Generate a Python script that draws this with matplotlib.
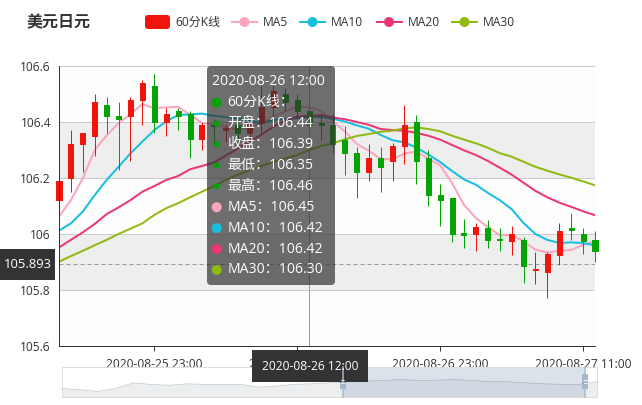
import numpy as np
import matplotlib
matplotlib.use('Agg')
import matplotlib.pyplot as plt
from matplotlib.patches import FancyBboxPatch, Rectangle, Circle

plt.rcParams['font.family'] = ['Open Sans', 'Noto Sans CJK SC', 'DejaVu Sans']

# ---- data ----
title = '美元日元'
kline_name = '60分K线'
ma_names = ['MA5', 'MA10', 'MA20', 'MA30']
tick_idx = [8, 20, 32, 44]
tick_labels = ['2020-08-25 23:00', '2020-08-26 11:00', '2020-08-26 23:00', '2020-08-27 11:00']
hover_idx = 21
hover_label = '2020-08-26 12:00'
y_ticks = [105.6, 105.8, 106.0, 106.2, 106.4, 106.6]
y_labels = ['105.6', '105.8', '106', '106.2', '106.4', '106.6']
mark_value = 105.893

opens = [106.12, 106.20, 106.32, 106.35, 106.46, 106.42, 106.42, 106.48, 106.53, 106.40,
         106.44, 106.43, 106.34, 106.39, 106.37, 106.39, 106.36, 106.395, 106.455, 106.50,
         106.48, 106.44, 106.395, 106.39, 106.335, 106.29, 106.22, 106.27, 106.26, 106.315,
         106.40, 106.27, 106.14, 106.13, 106.005, 106.00, 106.02, 105.982, 105.975, 105.98,
         105.87, 105.865, 105.925, 106.02, 106.00, 105.98]
closes = [106.19, 106.32, 106.36, 106.47, 106.42, 106.41, 106.48, 106.54, 106.40, 106.43,
          106.42, 106.34, 106.39, 106.385, 106.38, 106.36, 106.395, 106.455, 106.51, 106.47,
          106.44, 106.39, 106.39, 106.32, 106.29, 106.22, 106.27, 106.24, 106.315, 106.39,
          106.26, 106.14, 106.12, 106.00, 105.998, 106.025, 105.98, 105.978, 106.00, 105.885,
          105.876, 105.93, 106.01, 106.015, 105.976, 105.94]
lows = [106.06, 106.15, 106.22, 106.28, 106.36, 106.23, 106.26, 106.39, 106.36, 106.35,
        106.37, 106.27, 106.30, 106.32, 106.33, 106.33, 106.34, 106.36, 106.41, 106.44,
        106.41, 106.35, 106.335, 106.29, 106.21, 106.13, 106.19, 106.15, 106.19, 106.25,
        106.18, 106.10, 106.03, 105.97, 105.95, 105.94, 105.95, 105.94, 105.925, 105.825,
        105.82, 105.77, 105.89, 105.98, 105.93, 105.90]
highs = [106.20, 106.37, 106.36, 106.50, 106.49, 106.47, 106.49, 106.55, 106.57, 106.45,
         106.45, 106.44, 106.40, 106.41, 106.39, 106.41, 106.40, 106.53, 106.53, 106.52,
         106.50, 106.46, 106.43, 106.43, 106.385, 106.31, 106.32, 106.31, 106.325, 106.46,
         106.425, 106.30, 106.18, 106.13, 106.055, 106.04, 106.05, 106.02, 106.03, 105.99,
         105.935, 105.935, 106.04, 106.075, 106.02, 106.01]

ma5 = [106.062, 106.121, 106.199, 106.300, 106.352, 106.396, 106.428, 106.464, 106.450, 106.452,
       106.454, 106.426, 106.396, 106.393, 106.383, 106.371, 106.382, 106.395, 106.420, 106.438,
       106.454, 106.453, 106.440, 106.402, 106.366, 106.322, 106.298, 106.268, 106.267, 106.287,
       106.295, 106.269, 106.245, 106.182, 106.104, 106.057, 106.025, 105.996, 105.996, 105.974,
       105.944, 105.934, 105.940, 105.943, 105.961, 105.974]
ma10 = [106.012, 106.038, 106.080, 106.139, 106.193, 106.240, 106.288, 106.330, 106.371, 106.402,
        106.425, 106.427, 106.430, 106.422, 106.418, 106.413, 106.404, 106.396, 106.407, 106.411,
        106.413, 106.418, 106.418, 106.411, 106.402, 106.388, 106.376, 106.354, 106.335, 106.327,
        106.309, 106.284, 106.257, 106.225, 106.195, 106.176, 106.147, 106.121, 106.089, 106.039,
        106.000, 105.979, 105.968, 105.970, 105.968, 105.959]
ma20 = [105.952, 105.979, 106.006, 106.036, 106.071, 106.095, 106.121, 106.151, 106.171, 106.193,
        106.207, 106.231, 106.243, 106.255, 106.280, 106.305, 106.330, 106.355, 106.383, 106.406,
        106.419, 106.422, 106.424, 106.416, 106.410, 106.400, 106.390, 106.375, 106.371, 106.369,
        106.361, 106.351, 106.337, 106.318, 106.299, 106.282, 106.261, 106.237, 106.212, 106.183,
        106.154, 106.131, 106.112, 106.097, 106.081, 106.067]
ma30 = [105.901, 105.921, 105.940, 105.960, 105.979, 106.000, 106.019, 106.038, 106.068, 106.092,
        106.110, 106.131, 106.151, 106.171, 106.193, 106.211, 106.229, 106.243, 106.258, 106.270,
        106.282, 106.300, 106.314, 106.324, 106.338, 106.350, 106.357, 106.365, 106.369, 106.377,
        106.381, 106.375, 106.367, 106.351, 106.337, 106.324, 106.308, 106.289, 106.276, 106.258,
        106.240, 106.226, 106.213, 106.201, 106.188, 106.174]

# data shadow in the zoom slider (relative height 0..1)
shadow = [0.28, 0.24, 0.19, 0.28, 0.47, 0.42, 0.39, 0.44, 0.42, 0.42, 0.42, 0.33, 0.36, 0.42,
          0.44, 0.47, 0.51, 0.53, 0.55, 0.58, 0.55, 0.56, 0.58, 0.55, 0.51, 0.51, 0.47, 0.44,
          0.42, 0.42, 0.51]
zoom_range = (52.5, 97.8)  # percent

# ---- styles ----
up_color = '#f0150c'
down_color = '#02a302'
ma_colors = ['#fca5bb', '#16bee0', '#ee3673', '#8fbb10']
text_color = '#333333'

W, H = 642, 405
px = 0.72  # points per pixel at dpi 100

fig = plt.figure(figsize=(W / 100, H / 100), dpi=100)
L, R, T, B = 59, 595, 66, 346
ax = fig.add_axes([L / W, 1 - B / H, (R - L) / W, (B - T) / H])
ax.set_xlim(0, len(closes) - 1)
ax.set_ylim(y_ticks[0], y_ticks[-1])

# split area + grid
band_colors = ['#fdfdfd', '#eeeeee']
for k in range(len(y_ticks) - 1):
    ax.axhspan(y_ticks[k], y_ticks[k + 1], color=band_colors[k % 2], lw=0, zorder=0)
for v in y_ticks[1:]:
    ax.axhline(v, color='#cccccc', lw=1 * px, zorder=0.5)

for s in ['top', 'right']:
    ax.spines[s].set_visible(False)
for s in ['left', 'bottom']:
    ax.spines[s].set_color(text_color)
    ax.spines[s].set_linewidth(1 * px)
    ax.spines[s].set_zorder(6)

ax.set_yticks(y_ticks, y_labels)
ax.tick_params(axis='y', length=0, pad=8 * px, labelsize=12 * px, labelcolor=text_color)
ax.set_xticks(tick_idx, tick_labels)
ax.tick_params(axis='x', length=5 * px, width=1 * px, color=text_color, pad=7.5 * px,
               labelsize=12 * px, labelcolor=text_color)

# MA lines
idx = np.arange(len(closes))
for vals, col in zip([ma5, ma10, ma20, ma30], ma_colors):
    ax.plot(idx, vals, color=col, lw=2 * px, zorder=2, solid_capstyle='round')

# candlesticks
o = np.array(opens)
c = np.array(closes)
cols = [up_color if cc >= oo else down_color for oo, cc in zip(o, c)]
ax.vlines(idx, lows, highs, colors=cols, lw=1 * px, zorder=3, clip_on=False)
ax.bar(idx, np.abs(c - o), bottom=np.minimum(o, c), width=0.42, color=cols, edgecolor=cols,
       lw=1 * px, zorder=4, clip_on=False)

# mark line + crosshair
ax.axhline(mark_value, color='#999999', lw=1 * px, ls=(0, (4, 3)), zorder=1.5)
ax.axvline(hover_idx, color='#999999', lw=1 * px, zorder=5)

# ---- overlay in pixel coordinates ----
ov = fig.add_axes([0, 0, 1, 1])
ov.set_xlim(0, W)
ov.set_ylim(H, 0)
ov.axis('off')

ov.text(27, 23, title, fontsize=16 * px, fontweight='bold', color=text_color, va='center',
        ha='left')

# legend
ly = 22
ov.add_patch(FancyBboxPatch((145, ly - 7), 25, 14, boxstyle='round,pad=0,rounding_size=3',
                            fc=up_color, ec='none'))
ov.text(175.5, ly, kline_name, fontsize=12 * px, color=text_color, va='center', ha='left')
leg_x = [232, 300, 376.5, 452]
for name, col, x0 in zip(ma_names, ma_colors, leg_x):
    ov.plot([x0, x0 + 25], [ly, ly], color=col, lw=2 * px)
    ov.add_patch(Circle((x0 + 12.5, ly), 5, fc=col, ec='none'))
    ov.text(x0 + 31, ly, name, fontsize=12 * px, color=text_color, va='center', ha='left')

# mark line label
ov.add_patch(Rectangle((0, 248.5), 55, 31, fc=text_color, ec='none'))
ov.text(27.5, 264, f'{mark_value:.3f}', fontsize=13 * px, color='white', ha='center',
        va='center')

# zoom slider
sl_l, sl_r, sl_t, sl_b = 62, 597, 367, 397
xs = np.linspace(sl_l, sl_r, len(shadow))
ys = sl_b - np.array(shadow) * (sl_b - sl_t)
shade = (47 / 255, 69 / 255, 84 / 255)
ov.fill_between(xs, ys, sl_b, color=shade, alpha=0.09, lw=0)
ov.plot(xs, ys, color=shade, alpha=0.3, lw=0.5)
h1 = sl_l + (sl_r - sl_l) * zoom_range[0] / 100
h2 = sl_l + (sl_r - sl_l) * zoom_range[1] / 100
ov.add_patch(Rectangle((h1, sl_t), h2 - h1, sl_b - sl_t, fc=(167 / 255, 183 / 255, 204 / 255, 0.4),
                       ec='none'))
ov.add_patch(Rectangle((sl_l, sl_t), sl_r - sl_l, sl_b - sl_t, fill=False, ec='#dddddd',
                       lw=1 * px))
for hx in [h1, h2]:
    ov.plot([hx, hx], [sl_t, sl_b], color='#a7b7cc', lw=1.5 * px)
    ov.add_patch(Rectangle((hx - 3, sl_t + 7), 6, 15, fc='#a7b7cc', ec='none'))
    ov.plot([hx - 1.5, hx + 1.5], [sl_t + 13, sl_t + 13], color='white', lw=0.8 * px)
    ov.plot([hx - 1.5, hx + 1.5], [sl_t + 16, sl_t + 16], color='white', lw=0.8 * px)

# axis pointer label
ov.add_patch(Rectangle((252, 350), 116, 32, fc=text_color, ec='none'))
ov.text(310, 366, hover_label, fontsize=12 * px, color='white', ha='center', va='center')

# tooltip
tip_bg = (50 / 255, 50 / 255, 50 / 255, 0.7)
ov.add_patch(FancyBboxPatch((207, 66), 128, 219, boxstyle='round,pad=0,rounding_size=4',
                            fc=tip_bg, ec='none'))
ov.text(212, 81.5, hover_label, fontsize=14 * px, color='white', va='center', ha='left')
i = hover_idx
rows = [(kline_name + '：', down_color, True)]
for lab, val in zip(['开盘', '收盘', '最低', '最高'],
                    [opens[i], closes[i], lows[i], highs[i]]):
    rows.append((f'{lab}：{val:.2f}', down_color, False))
for name, vals, col in zip(ma_names, [ma5, ma10, ma20, ma30], ma_colors):
    rows.append((f'{name}：{vals[i]:.2f}', col, True))
for k, (txt, col, big) in enumerate(rows):
    yy = 102.7 + k * 20.9
    ov.add_patch(Circle((216.7, yy), 5 if big else 3, fc=col, ec='none'))
    ov.text(227.5, yy, txt, fontsize=14 * px, color='white', va='center', ha='left')

fig.savefig('out.png', dpi=100)
